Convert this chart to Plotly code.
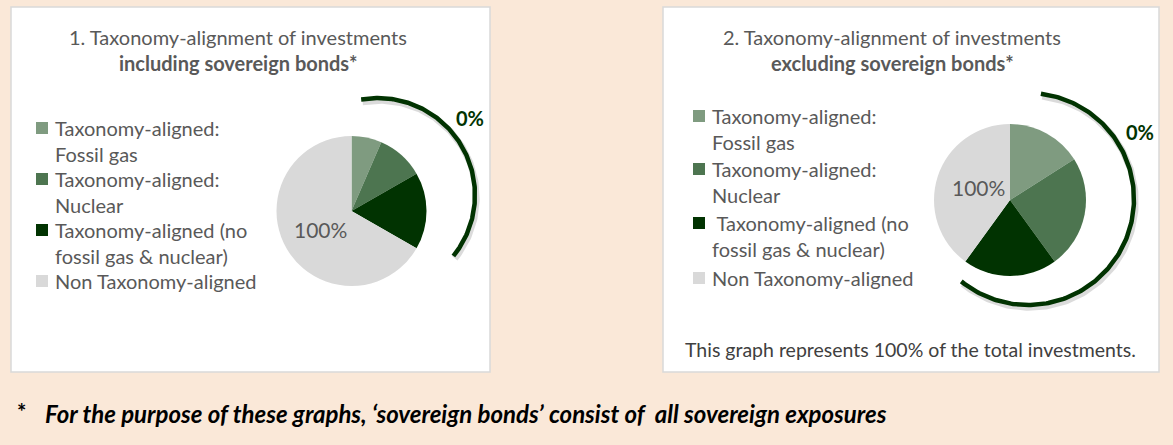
import numpy as np
import plotly.graph_objects as go

# ---- data ----
categories = ["Taxonomy-aligned:<br>Fossil gas",
              "Taxonomy-aligned:<br>Nuclear",
              "Taxonomy-aligned (no<br>fossil gas & nuclear)",
              "Non Taxonomy-aligned"]
categories2 = ["Taxonomy-aligned:<br>Fossil gas",
               "Taxonomy-aligned:<br>Nuclear",
               "\u00a0Taxonomy-aligned (no<br>fossil gas & nuclear)",
               "Non Taxonomy-aligned"]
incl_values = [6.5, 10.2, 16.6, 66.7]
excl_values = [16.0, 24.0, 20.0, 40.0]
aligned_label = "0%"
non_aligned_label = "100%"
titles = [["1. Taxonomy-alignment of investments", "<b>including sovereign bonds*</b>"],
          ["2. Taxonomy-alignment of investments", "<b>excluding sovereign bonds*</b>"]]
note2 = "This graph represents 100% of the total investments."
footnote = "For the purpose of these graphs, \u2018sovereign bonds\u2019 consist of  all sovereign exposures"

colors = ["#7F9B80", "#4D7550", "#013301", "#D9D9D9"]

W, H = 1173, 445
FONT = "Lato, Carlito, Open Sans, sans-serif"
TXT = "#595959"
FS = 20

fig = go.Figure()

panels = [dict(x0=11, x1=490, y0=7, y1=372), dict(x0=663, x1=1159, y0=7, y1=372)]
shapes = []
for p in panels:
    shapes.append(dict(type="rect", xref="x", yref="y", x0=p["x0"], x1=p["x1"], y0=p["y0"], y1=p["y1"],
                       fillcolor="white", line=dict(color="#D9D9D9", width=1.5), layer="below"))

geo = [
    dict(pie_c=(351.5, 211), pie_r=75, arc_c=(378, 195), arc_r=97, arc_a=(-10, 129),
         lab0=(470, 118), lab100=(320, 229), title_x=238, title_y=(37, 63),
         leg_x=36, leg_y=[128, 179, 230, 281], leg_text_x=53, leg_dy=25.5),
    dict(pie_c=(1010, 200), pie_r=76, arc_c=(1028, 199), arc_r=106, arc_a=(7, 219),
         lab0=(1140, 132), lab100=(978, 187), title_x=892, title_y=(37, 63),
         leg_x=693, leg_y=[116, 169, 223, 278], leg_text_x=710, leg_dy=26),
]

for i, (vals, g) in enumerate(zip([incl_values, excl_values], geo)):
    cx, cy = g["pie_c"]; r = g["pie_r"]
    fig.add_trace(go.Pie(values=vals, labels=[c.replace("<br>", " ") for c in categories],
                         sort=False, direction="clockwise", rotation=0,
                         marker=dict(colors=colors, line=dict(width=0)),
                         textinfo="none", hoverinfo="label+value", showlegend=False,
                         domain=dict(x=[(cx - r) / W, (cx + r) / W],
                                     y=[(H - cy - r) / H, (H - cy + r) / H])))
    ax, ay = g["arc_c"]; ar = g["arc_r"]
    th = np.radians(np.linspace(g["arc_a"][0], g["arc_a"][1], 200))
    xs = ax + ar * np.sin(th); ys = ay - ar * np.cos(th)
    fig.add_trace(go.Scatter(x=xs + 1.5, y=ys + 2.5, mode="lines", line=dict(color="rgba(0,0,0,0.14)", width=6.5),
                             hoverinfo="skip", showlegend=False))
    fig.add_trace(go.Scatter(x=xs, y=ys, mode="lines", line=dict(color="#013301", width=4.5),
                             hoverinfo="skip", showlegend=False))
    fig.add_annotation(x=g["lab0"][0], y=g["lab0"][1], text="<b>" + aligned_label + "</b>", showarrow=False,
                       font=dict(family=FONT, size=20, color="#013301"))
    fig.add_annotation(x=g["lab100"][0], y=g["lab100"][1], text=non_aligned_label, showarrow=False,
                       font=dict(family=FONT, size=21, color=TXT))
    for k, t in enumerate(titles[i]):
        fig.add_annotation(x=g["title_x"], y=g["title_y"][k], text=t, showarrow=False,
                           font=dict(family=FONT, size=FS, color=TXT))
    cats = categories if i == 0 else categories2
    for j, (lab, col) in enumerate(zip(cats, colors)):
        ly = g["leg_y"][j]
        shapes.append(dict(type="rect", xref="x", yref="y", x0=g["leg_x"], x1=g["leg_x"] + 12,
                           y0=ly - 6, y1=ly + 6, fillcolor=col, line=dict(width=0)))
        for k, line in enumerate(lab.split("<br>")):
            fig.add_annotation(x=g["leg_text_x"], y=ly + k * g["leg_dy"], text=line, showarrow=False,
                               xanchor="left", yanchor="middle",
                               font=dict(family=FONT, size=FS, color=TXT))

fig.add_annotation(x=910, y=349, text=note2, showarrow=False,
                   font=dict(family=FONT, size=19.5, color="#404040"))
fig.add_annotation(x=21, y=411, text="<b>*</b>", showarrow=False, xanchor="center",
                   font=dict(family=FONT, size=22, color="black"))
fig.add_annotation(x=43, y=413, text="<b><i>" + footnote + "</i></b>", showarrow=False, xanchor="left",
                   font=dict(family=FONT, size=24, color="black"))

fig.update_layout(width=W, height=H, margin=dict(l=0, r=0, t=0, b=0),
                  paper_bgcolor="#FAE8D8", plot_bgcolor="rgba(0,0,0,0)",
                  shapes=shapes,
                  xaxis=dict(range=[0, W], visible=False, fixedrange=True),
                  yaxis=dict(range=[H, 0], visible=False, fixedrange=True))
fig.write_html("out.html", config={"displayModeBar": False},
               post_script="document.body.style.margin='0';document.body.style.background='#FAE8D8';")
